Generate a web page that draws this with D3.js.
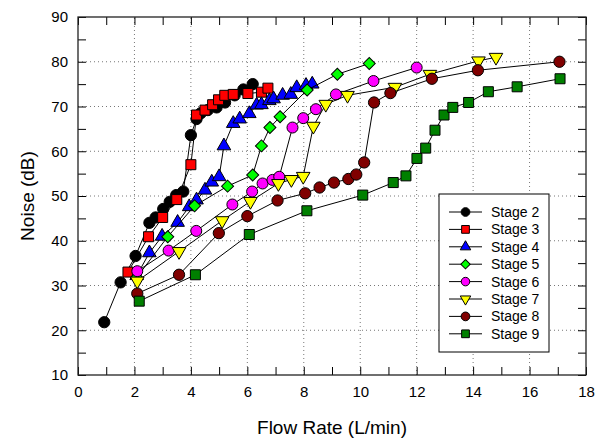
<!DOCTYPE html>
<html>
<head>
<meta charset="utf-8">
<script src="https://cdn.jsdelivr.net/npm/d3@7"></script>
<style>
  body { margin: 0; background: #fff; }
  text { font-family: "Liberation Sans", Arial, sans-serif; }
</style>
</head>
<body>
<svg id="chart"></svg>
<script>
// values
const stageNames = ['Stage 2', 'Stage 3', 'Stage 4', 'Stage 5', 'Stage 6', 'Stage 7', 'Stage 8', 'Stage 9'];
const stageColors = ['#000000', '#ff0000', '#0000ff', '#00ff00', '#ff00ff', '#ffff00', '#800000', '#008000'];

const stage2 = [[0.93, 21.8], [1.51, 30.7], [2.04, 36.6], [2.53, 44.0], [2.75, 45.2], [3.02, 47.1], [3.25, 48.7], [3.48, 50.2], [3.73, 51.0], [4.0, 63.6], [4.2, 67.2], [4.35, 68.5], [4.6, 69.2], [4.91, 69.8], [5.21, 70.9], [5.55, 72.5], [5.86, 73.8], [6.19, 75.0]];
const stage3 = [[1.77, 33.0], [2.5, 40.9], [3.0, 45.2], [3.5, 49.2], [4.0, 57.0], [4.2, 68.1], [4.5, 69.2], [4.77, 70.4], [4.98, 71.5], [5.2, 72.5], [5.5, 72.7], [6.02, 72.9], [6.5, 73.2], [6.73, 74.1]];
const stage4 = [[2.08, 32.2], [2.53, 37.3], [2.98, 41.0], [3.53, 44.1], [3.94, 47.6], [4.2, 49.1], [4.5, 51.3], [4.74, 53.1], [5.0, 54.3], [5.17, 61.2], [5.5, 66.2], [5.73, 67.2], [6.07, 68.4], [6.33, 70.3], [6.5, 70.4], [6.78, 71.3], [6.93, 71.7], [7.25, 72.5], [7.54, 72.7], [7.75, 74.2], [8.08, 74.7], [8.3, 75.0]];
const stage5 = [[2.08, 31.8], [3.18, 40.9], [4.13, 47.8], [5.3, 52.2], [6.19, 54.7], [6.5, 61.2], [6.8, 65.3], [7.16, 67.7], [8.12, 73.7], [9.19, 77.2], [10.32, 79.6]];
const stage6 = [[2.1, 33.2], [3.21, 37.8], [4.19, 42.2], [5.47, 48.1], [6.17, 51.0], [6.54, 52.8], [6.89, 53.6], [7.13, 54.3], [7.6, 65.3], [7.98, 67.4], [8.43, 69.4], [9.14, 72.7], [10.47, 75.7], [12.0, 78.7]];
const stage7 = [[2.1, 31.0], [3.58, 37.6], [5.11, 44.5], [6.11, 48.8], [7.1, 52.8], [7.56, 53.7], [7.98, 54.4], [8.34, 65.6], [8.78, 70.5], [9.55, 72.5], [11.23, 74.3], [12.47, 77.2], [14.19, 80.2], [14.81, 81.0]];
const stage8 = [[2.1, 28.2], [3.58, 32.4], [4.99, 41.7], [6.0, 45.5], [7.07, 49.0], [8.05, 50.6], [8.56, 51.9], [9.07, 53.0], [9.58, 53.8], [9.86, 54.8], [10.14, 57.5], [10.49, 70.9], [11.07, 73.0], [12.54, 76.2], [14.17, 78.1], [17.06, 80.0]];
const stage9 = [[2.17, 26.5], [4.16, 32.4], [6.07, 41.4], [8.11, 46.7], [10.09, 50.2], [11.17, 53.0], [11.62, 54.5], [12.01, 58.4], [12.32, 60.7], [12.65, 64.7], [12.97, 68.1], [13.28, 69.8], [13.84, 70.9], [14.54, 73.3], [15.56, 74.4], [17.08, 76.2]];

const xTicks = [0, 2, 4, 6, 8, 10, 12, 14, 16, 18];
const yTicks = [10, 20, 30, 40, 50, 60, 70, 80, 90];

const allStages = [stage2, stage3, stage4, stage5, stage6, stage7, stage8, stage9];

const width = 603;
const height = 439;
const margin = { top: 17, right: 17, bottom: 64, left: 78 };

const svg = d3.select('#chart').attr('width', width).attr('height', height);

const x = d3.scaleLinear().domain([0, 18]).range([margin.left, width - margin.right]);
const y = d3.scaleLinear().domain([10, 90]).range([height - margin.bottom, margin.top]);

// grid
svg.append('g')
  .selectAll('line')
  .data(xTicks.slice(1, -1))
  .enter()
  .append('line')
  .attr('x1', (d) => x(d)).attr('x2', (d) => x(d))
  .attr('y1', y(10)).attr('y2', y(90))
  .attr('stroke', '#777').attr('stroke-dasharray', '1,3');

svg.append('g')
  .selectAll('line')
  .data(yTicks.slice(1, -1))
  .enter()
  .append('line')
  .attr('y1', (d) => y(d)).attr('y2', (d) => y(d))
  .attr('x1', x(0)).attr('x2', x(18))
  .attr('stroke', '#777').attr('stroke-dasharray', '1,3');

// axes, ticks inward on all four sides
const tickLen = 8;
const xMinor = d3.range(0, 19, 1);
const yMinor = d3.range(10, 91, 5);

function styleAxis(g) {
  g.select('.domain').remove();
  g.selectAll('.tick line').attr('stroke', '#000');
  g.selectAll('.tick text')
    .attr('font-size', 15)
    .attr('fill', '#000');
}

svg.append('g')
  .attr('transform', `translate(0,${y(10)})`)
  .call(d3.axisBottom(x).tickValues(xMinor).tickSize(-tickLen).tickPadding(11)
    .tickFormat((d) => (d % 2 === 0 ? d : '')))
  .call(styleAxis);

svg.append('g')
  .attr('transform', `translate(0,${y(90)})`)
  .call(d3.axisTop(x).tickValues(xMinor).tickSize(-tickLen).tickFormat(''))
  .call(styleAxis);

svg.append('g')
  .attr('transform', `translate(${x(0)},0)`)
  .call(d3.axisLeft(y).tickValues(yMinor).tickSize(-tickLen).tickPadding(10)
    .tickFormat((d) => (d % 10 === 0 ? d : '')))
  .call(styleAxis);

svg.append('g')
  .attr('transform', `translate(${x(18)},0)`)
  .call(d3.axisRight(y).tickValues(yMinor).tickSize(-tickLen).tickFormat(''))
  .call(styleAxis);

svg.append('rect')
  .attr('x', x(0)).attr('y', y(90))
  .attr('width', x(18) - x(0)).attr('height', y(10) - y(90))
  .attr('fill', 'none').attr('stroke', '#222').attr('stroke-width', 1.3);

// axis titles
svg.append('text')
  .attr('x', (x(0) + x(18)) / 2).attr('y', 434)
  .attr('text-anchor', 'middle').attr('font-size', 19)
  .text('Flow Rate (L/min)');

svg.append('text')
  .attr('transform', `translate(34,${(y(10) + y(90)) / 2}) rotate(-90)`)
  .attr('text-anchor', 'middle').attr('font-size', 19)
  .text('Noise (dB)');

// marker shapes
const shapes = [
  { type: d3.symbolCircle, size: 100, rot: 0 },
  { type: d3.symbolSquare, size: 100, rot: 0 },
  { type: d3.symbolTriangle, size: 80, rot: 0 },
  { type: d3.symbolSquare, size: 72, rot: 45 },
  { type: d3.symbolCircle, size: 95, rot: 0 },
  { type: d3.symbolTriangle, size: 80, rot: 180 },
  { type: d3.symbolCircle, size: 100, rot: 0 },
  { type: d3.symbolSquare, size: 100, rot: 0 },
];

const line = d3.line().x((d) => x(d[0])).y((d) => y(d[1]));

allStages.forEach((pts, i) => {
  const g = svg.append('g');
  g.append('path')
    .attr('d', line(pts))
    .attr('fill', 'none').attr('stroke', '#000').attr('stroke-width', 1);
  const sym = d3.symbol().type(shapes[i].type).size(shapes[i].size);
  g.selectAll('path.pt')
    .data(pts)
    .enter()
    .append('path')
    .attr('class', 'pt')
    .attr('d', sym)
    .attr('transform', (d) => `translate(${x(d[0])},${y(d[1])}) rotate(${shapes[i].rot})`)
    .attr('fill', stageColors[i])
    .attr('stroke', '#000').attr('stroke-width', 1);
});

// legend
const legend = svg.append('g').attr('transform', 'translate(439,194)');
legend.append('rect')
  .attr('width', 110).attr('height', 158)
  .attr('fill', '#fff').attr('stroke', '#000').attr('stroke-width', 1);

stageNames.forEach((name, i) => {
  const ly = 18 + i * 17.4;
  const row = legend.append('g').attr('transform', `translate(0,${ly})`);
  row.append('line')
    .attr('x1', 10).attr('x2', 43)
    .attr('stroke', '#000').attr('stroke-width', 1);
  row.append('path')
    .attr('d', d3.symbol().type(shapes[i].type).size(shapes[i].size * 0.6))
    .attr('transform', `translate(26.5,0) rotate(${shapes[i].rot})`)
    .attr('fill', stageColors[i])
    .attr('stroke', '#000').attr('stroke-width', 1);
  row.append('text')
    .attr('x', 52).attr('y', 5)
    .attr('font-size', 14)
    .text(name);
});
</script>
</body>
</html>
